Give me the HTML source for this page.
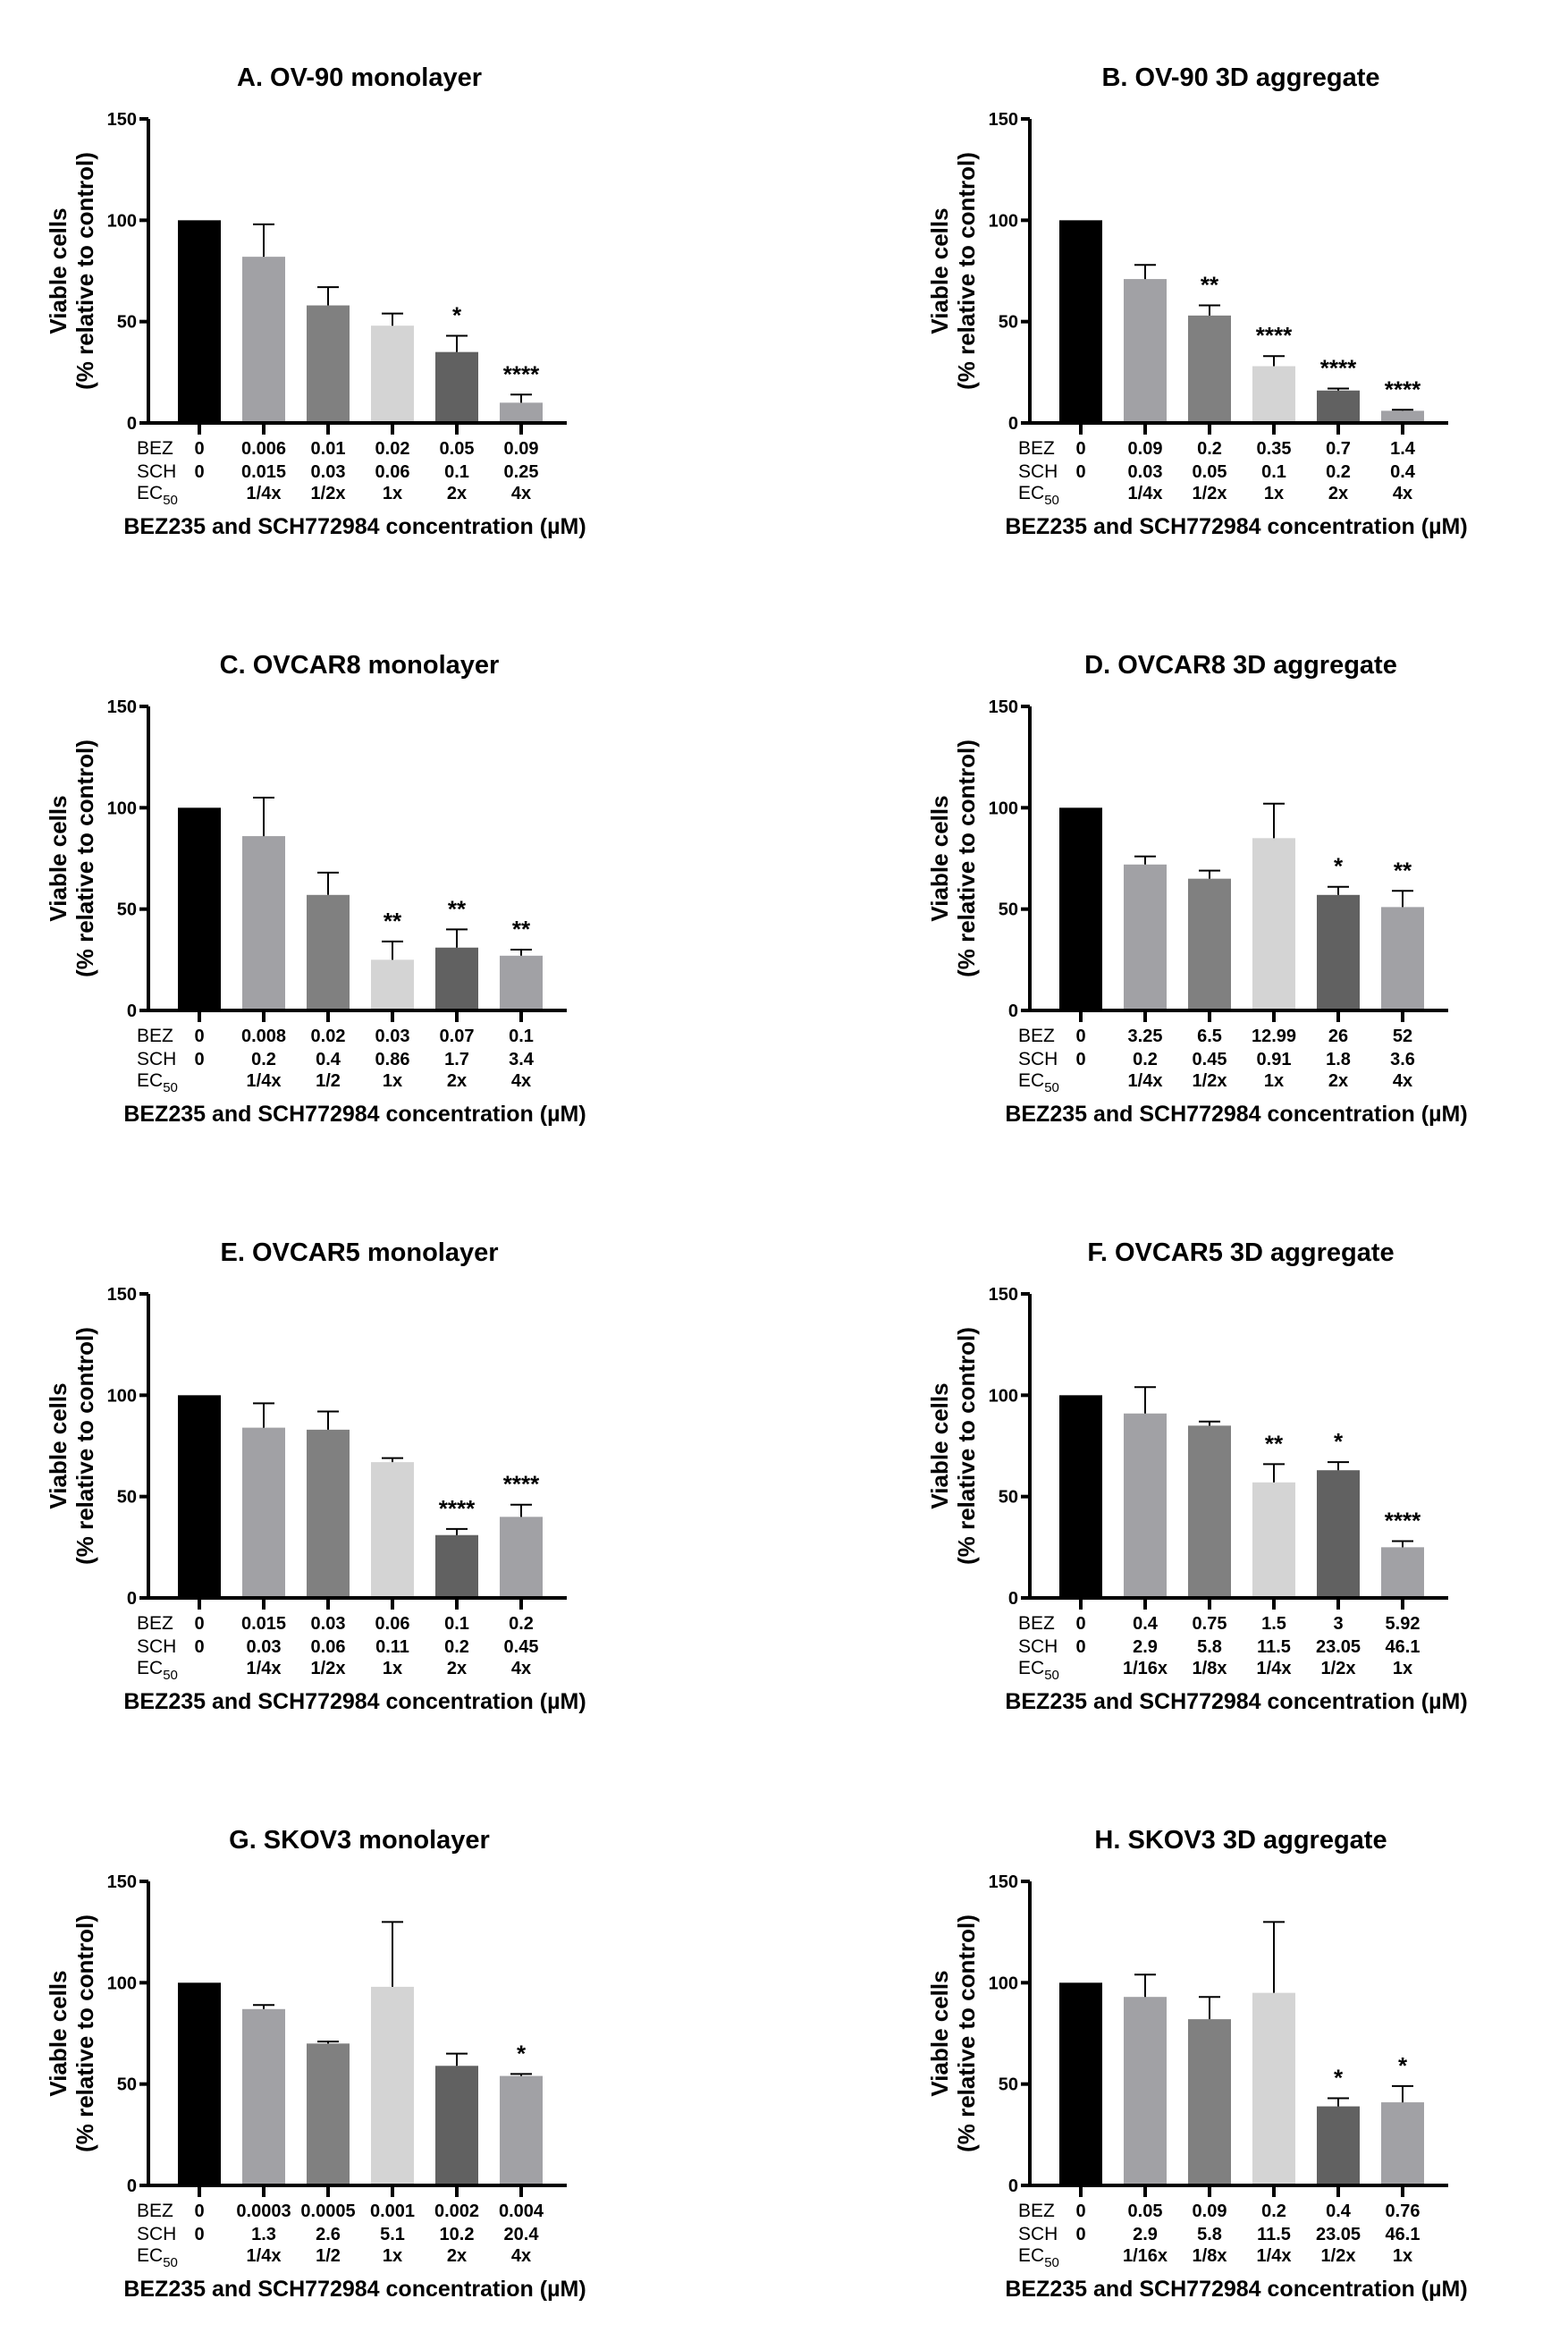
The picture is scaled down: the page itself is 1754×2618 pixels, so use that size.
<!DOCTYPE html>
<html><head><meta charset="utf-8"><style>
html,body{margin:0;padding:0;background:#fff;}
svg{display:block;}
text{font-family:"Liberation Sans",Arial,sans-serif;fill:#000;}
</style></head><body>
<svg id="fig" width="1754" height="2618" viewBox="0 0 1754 2618" xmlns="http://www.w3.org/2000/svg"></svg>
<script>
const titles = ["A. OV-90 monolayer","B. OV-90 3D aggregate","C. OVCAR8 monolayer","D. OVCAR8 3D aggregate","E. OVCAR5 monolayer","F. OVCAR5 3D aggregate","G. SKOV3 monolayer","H. SKOV3 3D aggregate"];
const meansA=[100,82,58,48,35,10], errTopA=[100,98,67,54,43,14], sigA=["","","","","*","****"];
const meansB=[100,71,53,28,16,6], errTopB=[100,78,58,33,17,6.5], sigB=["","","**","****","****","****"];
const meansC=[100,86,57,25,31,27], errTopC=[100,105,68,34,40,30], sigC=["","","","**","**","**"];
const meansD=[100,72,65,85,57,51], errTopD=[100,76,69,102,61,59], sigD=["","","","","*","**"];
const meansE=[100,84,83,67,31,40], errTopE=[100,96,92,69,34,46], sigE=["","","","","****","****"];
const meansF=[100,91,85,57,63,25], errTopF=[100,104,87,66,67,28], sigF=["","","","**","*","****"];
const meansG=[100,87,70,98,59,54], errTopG=[100,89,71,130,65,55], sigG=["","","","","","*"];
const meansH=[100,93,82,95,39,41], errTopH=[100,104,93,130,43,49], sigH=["","","","","*","*"];
const bezA=["0","0.006","0.01","0.02","0.05","0.09"], schA=["0","0.015","0.03","0.06","0.1","0.25"], ecA=["","1/4x","1/2x","1x","2x","4x"];
const bezB=["0","0.09","0.2","0.35","0.7","1.4"], schB=["0","0.03","0.05","0.1","0.2","0.4"], ecB=["","1/4x","1/2x","1x","2x","4x"];
const bezC=["0","0.008","0.02","0.03","0.07","0.1"], schC=["0","0.2","0.4","0.86","1.7","3.4"], ecC=["","1/4x","1/2","1x","2x","4x"];
const bezD=["0","3.25","6.5","12.99","26","52"], schD=["0","0.2","0.45","0.91","1.8","3.6"], ecD=["","1/4x","1/2x","1x","2x","4x"];
const bezE=["0","0.015","0.03","0.06","0.1","0.2"], schE=["0","0.03","0.06","0.11","0.2","0.45"], ecE=["","1/4x","1/2x","1x","2x","4x"];
const bezF=["0","0.4","0.75","1.5","3","5.92"], schF=["0","2.9","5.8","11.5","23.05","46.1"], ecF=["","1/16x","1/8x","1/4x","1/2x","1x"];
const bezG=["0","0.0003","0.0005","0.001","0.002","0.004"], schG=["0","1.3","2.6","5.1","10.2","20.4"], ecG=["","1/4x","1/2","1x","2x","4x"];
const bezH=["0","0.05","0.09","0.2","0.4","0.76"], schH=["0","2.9","5.8","11.5","23.05","46.1"], ecH=["","1/16x","1/8x","1/4x","1/2x","1x"];
const yTicks=[0,50,100,150];

const panels=[
 [meansA,errTopA,sigA,bezA,schA,ecA],[meansB,errTopB,sigB,bezB,schB,ecB],
 [meansC,errTopC,sigC,bezC,schC,ecC],[meansD,errTopD,sigD,bezD,schD,ecD],
 [meansE,errTopE,sigE,bezE,schE,ecE],[meansF,errTopF,sigF,bezF,schF,ecF],
 [meansG,errTopG,sigG,bezG,schG,ecG],[meansH,errTopH,sigH,bezH,schH,ecH]];
const colors=["#000000","#a1a1a5","#808080","#d4d4d4","#616161","#a1a1a5"];
const NS="http://www.w3.org/2000/svg";
const svg=document.getElementById('fig');
function mk(tag,attrs,parent,txt){const e=document.createElementNS(NS,tag);for(const k in attrs)e.setAttribute(k,attrs[k]);if(txt!==undefined)e.textContent=txt;parent.appendChild(e);return e;}

panels.forEach((p,i)=>{
  const [means,errs,sigs,bez,sch,ec]=p;
  const col=i%2,row=Math.floor(i/2);
  const ax=166+col*986, y0=473+row*657, y150=133+row*657;
  const yS=v=>y0-(v/150)*(y0-y150);
  const xC=k=>ax+57+k*72;
  const g=mk('g',{},svg);
  
  
  const t=mk('text',{x:ax+236,y:y150-37,'text-anchor':'middle','font-size':29,'font-weight':'bold'},g,titles[i]);
  
  
  means.forEach((v,k)=>{
    const b=mk('rect',{x:xC(k)-24,y:yS(v),width:48,height:y0-yS(v),fill:colors[k]},g);
    
    
    if(k>0 && errs[k]>v){
      const e=mk('path',{d:`M${xC(k)} ${yS(v)}V${yS(errs[k])}M${xC(k)-12} ${yS(errs[k])}H${xC(k)+12}`,stroke:'#000','stroke-width':2,fill:'none'},g);
      
      
    }
    if(sigs[k]){
      const s=mk('text',{x:xC(k),y:yS(errs[k])-14,'text-anchor':'middle','font-size':26,'font-weight':'bold'},g,sigs[k]);
      
      
    }
    const tk=mk('line',{x1:xC(k),x2:xC(k),y1:y0,y2:y0+13,stroke:'#000','stroke-width':4},g);
    
    
    [[bez,508],[sch,534],[ec,558]].forEach(([arr,yy])=>{
      const lt=mk('text',{x:xC(k),y:yy+row*657,'text-anchor':'middle','font-size':20,'font-weight':'bold'},g,arr[k]);
      
      
    });
  });
  const a=mk('path',{d:`M${ax} ${y150}V${y0}H${ax+468}`,stroke:'#000','stroke-width':4,fill:'none'},g);
  
  
  yTicks.forEach(v=>{
    const l=mk('line',{x1:ax-10,x2:ax,y1:yS(v),y2:yS(v),stroke:'#000','stroke-width':4},g);
    
    
    const tl=mk('text',{x:ax-13,y:yS(v)+7,'text-anchor':'end','font-size':20,'font-weight':'bold'},g,String(v));
    
    
  });
  [["BEZ",508],["SCH",534]].forEach(([s,yy])=>{
    const rl=mk('text',{x:ax-13,y:yy+row*657,'font-size':21},g,s);
    
    
  });
  const ecl=mk('text',{x:ax-13,y:558+row*657,'font-size':21},g);
  
  
  mk('tspan',{},ecl,'EC');
  mk('tspan',{'font-size':15,dy:6},ecl,'50');
  const yt=mk('text',{transform:`translate(${ax-92},${(y0+y150)/2}) rotate(-90)`,'text-anchor':'middle','font-size':26,'font-weight':'bold'},g);
  
  
  mk('tspan',{x:0,y:0},yt,'Viable cells');
  mk('tspan',{x:0,y:30},yt,'(%  relative to control)');
  const xt=mk('text',{x:ax+231,y:597+row*657,'text-anchor':'middle','font-size':25,'font-weight':'bold'},g,'BEZ235 and SCH772984 concentration (µM)');
  
  
});
</script>
</body></html>
